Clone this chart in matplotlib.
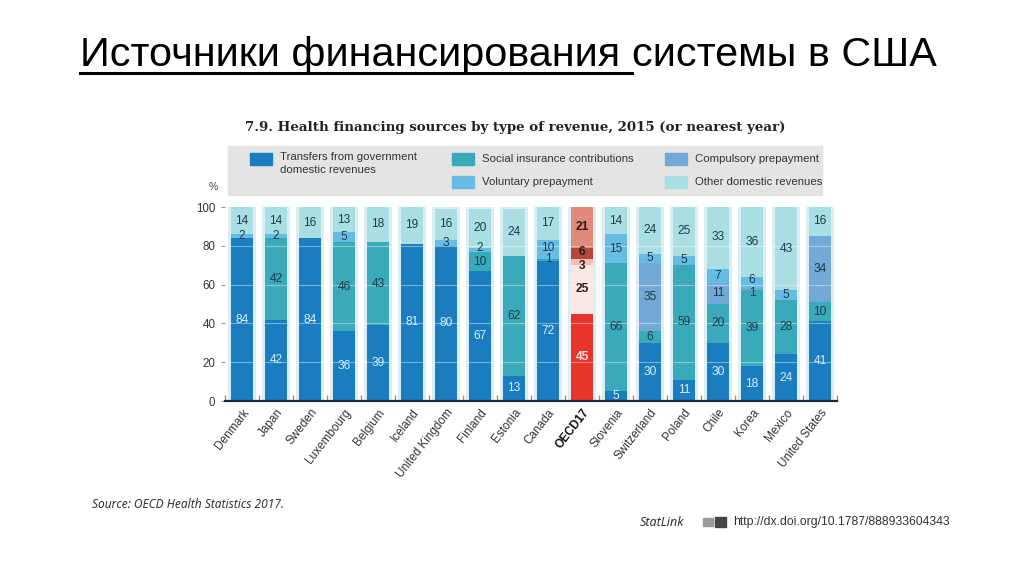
import numpy as np
import matplotlib.pyplot as plt
from matplotlib.patches import Rectangle
from matplotlib.lines import Line2D

# Data (shares of health financing revenue, %)
countries = ['Denmark', 'Japan', 'Sweden', 'Luxembourg', 'Belgium', 'Iceland',
             'United Kingdom', 'Finland', 'Estonia', 'Canada', 'OECD17', 'Slovenia',
             'Switzerland', 'Poland', 'Chile', 'Korea', 'Mexico', 'United States']
transfers = [84, 42, 84, 36, 39, 81, 80, 67, 13, 72, 45, 5, 30, 11, 30, 18, 24, 41]
social = [0, 42, 0, 46, 43, 0, 0, 10, 62, 1, 25, 66, 6, 59, 20, 39, 28, 10]
compulsory = [0, 0, 0, 0, 0, 0, 0, 0, 0, 0, 3, 0, 35, 0, 11, 1, 0, 34]
voluntary = [2, 2, 0, 5, 0, 0, 3, 2, 0, 10, 6, 15, 5, 5, 7, 6, 5, 0]
other = [14, 14, 16, 13, 18, 19, 16, 20, 24, 17, 21, 14, 24, 25, 33, 36, 43, 16]

series = [transfers, social, compulsory, voluntary, other]
names = ['Transfers from government\ndomestic revenues', 'Social insurance contributions',
         'Compulsory prepayment', 'Voluntary prepayment', 'Other domestic revenues']
colors = ['#1a7dbf', '#3aaabb', '#72a9d6', '#66bce2', '#a9dfe2']
oecd_colors = ['#e8352b', '#fbe8e4', '#f2c0b6', '#b5473b', '#df8a7b']
highlight = 'OECD17'

# small vertical nudges for labels of thin segments that would collide
nudge = {('OECD17', 2): -1.8, ('OECD17', 3): 1.0, ('Korea', 2): -2.0, ('Korea', 3): 1.2,
         ('Canada', 1): 0.8, ('Canada', 3): 1.0, ('Finland', 3): 1.0, ('Finland', 1): -0.5}

W, H = 1024, 574
def px(x):
    return x / W
def py(y):
    return 1 - y / H

NARROW = ['Liberation Sans Narrow', 'Liberation Sans', 'DejaVu Sans']

fig = plt.figure(figsize=(W / 100, H / 100), dpi=100)
fig.patch.set_facecolor('white')

def fit_width(texts, target, size):
    # scale font size so the joined texts span the target width in pixels
    fig.canvas.draw()
    r = fig.canvas.get_renderer()
    w = sum(t.get_window_extent(r).width for t in texts)
    for t in texts:
        t.set_fontsize(size * target / w)

# Slide title, first part underlined
t1 = fig.text(px(80), py(66), 'Источники финансирования ', fontsize=29,
              family='Liberation Sans', va='baseline', color='black')
t2 = fig.text(px(500), py(66), 'системы в США', fontsize=29,
              family='Liberation Sans', va='baseline', color='black')
fit_width([t1, t2], 855, 29)
fig.canvas.draw()
bb = t1.get_window_extent()
t2.set_x(bb.x1 / W)
fig.add_artist(Line2D([bb.x0 / W, bb.x1 / W], [py(73), py(73)], color='black', lw=2.2,
                      transform=fig.transFigure))

# Chart title
st = fig.text(px(245), py(127), '7.9. Health financing sources by type of revenue, 2015 (or nearest year)',
              fontsize=10.5, family='DejaVu Serif', weight='bold', color='#222222', va='center')
fit_width([st], 545, 10.5)

# Legend box
fig.add_artist(Rectangle((px(228), py(195)), px(822) - px(228), py(146) - py(195),
                         transform=fig.transFigure, color='#e4e4e4', zorder=0))
legend_slots = [(250, 159), (452, 159), (665, 159), (452, 182), (665, 182)]
for name, col, (lx, ly) in zip(names, colors, legend_slots):
    fig.add_artist(Rectangle((px(lx), py(ly + 6)), px(22), 12 / H,
                             transform=fig.transFigure, color=col))
    if '\n' in name:
        fig.text(px(lx + 30), py(ly - 7), name, fontsize=8.2, family=NARROW, color='#333333',
                 va='top', linespacing=1.35)
    else:
        fig.text(px(lx + 30), py(ly), name, fontsize=8.2, family=NARROW, color='#333333',
                 va='center')
fig.text(px(213), py(187), '%', fontsize=7.5, family=NARROW, color='#444444',
         ha='center', va='center')

# Bars
ax = fig.add_axes([px(225), py(401), px(837) - px(225), py(207) - py(401)])
x = np.arange(len(countries))
ax.bar(x, 100, width=0.82, color='#dcedf3', zorder=1)

bottom = np.zeros(len(countries))
for k, vals in enumerate(series):
    vals = np.array(vals, dtype=float)
    cols = [oecd_colors[k] if c == highlight else colors[k] for c in countries]
    ax.bar(x, vals, width=0.64, bottom=bottom, color=cols, zorder=2)
    for i, v in enumerate(vals):
        if v <= 0:
            continue
        tc = '#d8f0fb' if k == 0 else '#1b3b4f'
        if countries[i] == highlight:
            tc = '#fde3dd' if k == 0 else '#2a1a18'
        yy = bottom[i] + v / 2 + nudge.get((countries[i], k), 0)
        ax.text(x[i], yy, f'{int(v)}', ha='center', va='center',
                fontsize=8.6, family=NARROW, color=tc, zorder=4,
                weight='bold' if countries[i] == highlight else 'normal')
    bottom += vals

for g in [20, 40, 60, 80]:
    ax.axhline(g, color='white', lw=0.8, alpha=0.4, zorder=3)

ax.set_xlim(-0.5, 17.4)
ax.set_ylim(0, 100)
ax.set_yticks([0, 20, 40, 60, 80, 100])
ax.tick_params(axis='y', length=3, color='#999999', labelsize=8.3, labelcolor='#333333', pad=4)
ax.set_xticks(x)
ax.set_xticks(np.arange(-0.5, len(countries), 1), minor=True)
ax.tick_params(axis='x', which='major', length=0, pad=4)
ax.tick_params(axis='x', which='minor', direction='in', length=4, color='#c08a5a', width=1)
ax.set_xticklabels(countries, rotation=52, ha='right', rotation_mode='anchor',
                   fontsize=8.5, family=NARROW, color='#333333')
for lab in ax.get_xticklabels():
    if lab.get_text() == highlight:
        lab.set_fontweight('bold')
        lab.set_color('#111111')
for lab in ax.get_yticklabels():
    lab.set_family(NARROW)
for s in ['top', 'right', 'left']:
    ax.spines[s].set_visible(False)
ax.spines['bottom'].set_color('#1c2b3a')
ax.spines['bottom'].set_linewidth(1.6)
ax.spines['bottom'].set_zorder(5)

# Source and StatLink
fig.text(px(92), py(505), 'Source: OECD Health Statistics 2017.', fontsize=8.6,
         family='Noto Sans', style='italic', color='#333333', va='center')
fig.text(px(640), py(522), 'StatLink', fontsize=9, family='Noto Sans', style='italic',
         weight='bold', color='#333333', va='center')
# little StatLink icon
fig.add_artist(Rectangle((px(703), py(526)), px(10), 8 / H, transform=fig.transFigure,
                         color='#9a9a9a'))
fig.add_artist(Rectangle((px(715), py(527)), px(11), 10 / H, transform=fig.transFigure,
                         color='#444444'))
fig.text(px(733), py(522), 'http://dx.doi.org/10.1787/888933604343', fontsize=8.8,
         family=NARROW, color='#333333', va='center')

fig.savefig('out.png', dpi=100)
